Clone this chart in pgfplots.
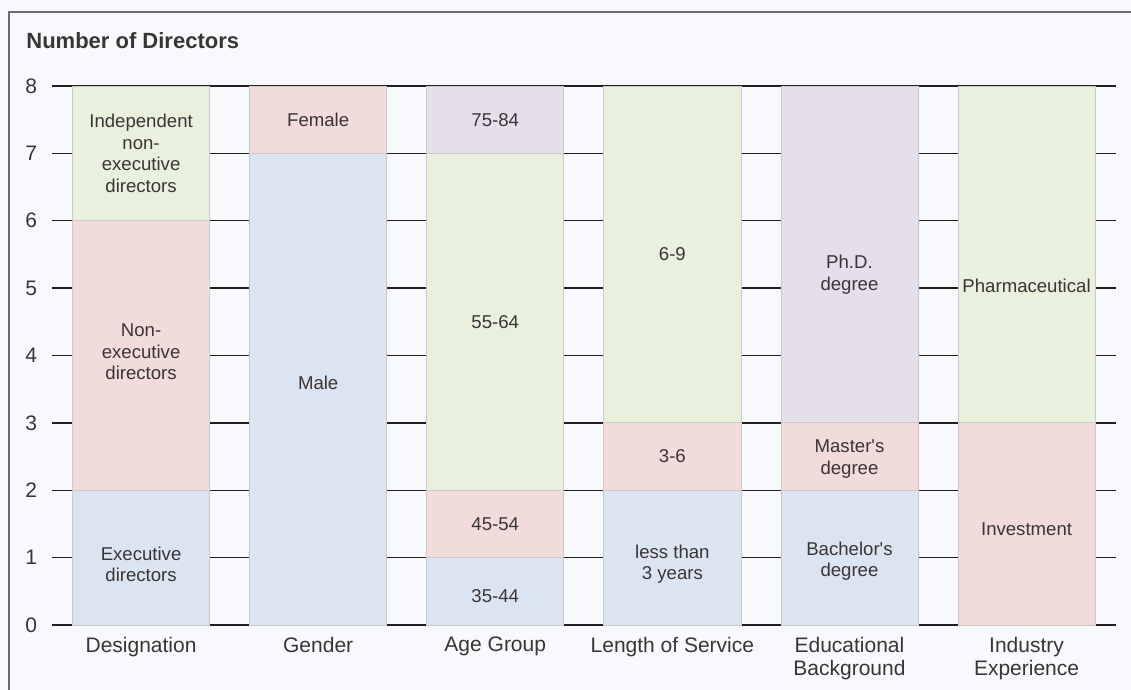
\documentclass[border=0pt]{standalone}
\usepackage{fontspec}
\setmainfont{Liberation Sans}
\usepackage{pgfplots}
\pgfplotsset{compat=1.18}
\definecolor{cblue}{HTML}{DBE5F1}
\definecolor{cpink}{HTML}{F2DBDB}
\definecolor{cgreen}{HTML}{E9F0DE}
\definecolor{cpurple}{HTML}{E5DFEC}
\definecolor{bgc}{HTML}{F8F9FD}
\definecolor{framec}{HTML}{6E6B6B}
\definecolor{gridc}{HTML}{231F20}
\definecolor{txt}{HTML}{3A3535}
\definecolor{edgec}{HTML}{CDC9C9}
\begin{document}
\begin{tikzpicture}[lab/.style={font=\fontsize{9.3}{10.75}\selectfont, text=txt, align=center}]
\useasboundingbox (0pt,0pt) rectangle (565.5pt,345pt);
\fill[bgc] (0pt,0pt) rectangle (565.5pt,345pt);
\draw[framec, line width=0.75pt] (4.5pt,-2pt) -- (4.5pt,339pt) -- (567pt,339pt);
\node[anchor=base west, inner sep=0pt, text=txt, font=\fontsize{11}{13}\selectfont\bfseries] at (13pt,320.5pt) {Number of Directors};
\begin{axis}[
  at={(26pt,32.5pt)}, anchor=south west,
  scale only axis, width=532pt, height=269.5pt,
  ybar stacked, bar width=0.774,
  xmin=-0.503, xmax=5.505, ymin=0, ymax=8,
  xtick={0,1,2,3,4,5},
  xticklabels={Designation, Gender, Age Group, Length of Service, Educational\\Background, Industry\\Experience},
  ytick={0,1,2,3,4,5,6,7,8},
  ymajorgrids, grid style={line width=0.65pt, color=gridc},
  axis x line=bottom, axis y line=left,
  axis line style={-},
  y axis line style={draw=none},
  x axis line style={line width=1pt, color=gridc},
  major tick length=0pt,
  /pgf/number format/assume math mode=true,
  yticklabel style={font=\fontsize{10.5}{12}\selectfont, text=txt, xshift=-4pt},
  xticklabel style={font=\fontsize{10.5}{11.5}\selectfont, text=txt, align=center, yshift=-2.5pt},
  every axis plot/.append style={draw=edgec, line width=0.4pt},
  clip=false,
]
\addplot[fill=cblue] coordinates {(0,2) (1,7) (2,1) (3,2) (4,2) (5,0)};
\addplot[fill=cpink] coordinates {(0,4) (1,1) (2,1) (3,1) (4,1) (5,3)};
\addplot[fill=cgreen] coordinates {(0,2) (1,0) (2,5) (3,5) (4,0) (5,5)};
\addplot[fill=cpurple] coordinates {(0,0) (1,0) (2,1) (3,0) (4,5) (5,0)};
\coordinate (a1) at (axis cs:0,7.0);
\coordinate (a2) at (axis cs:0,4.05);
\coordinate (a3) at (axis cs:0,0.9);
\coordinate (b1) at (axis cs:1,7.5);
\coordinate (b2) at (axis cs:1,3.6);
\coordinate (c1) at (axis cs:2,7.5);
\coordinate (c2) at (axis cs:2,4.5);
\coordinate (c3) at (axis cs:2,1.5);
\coordinate (c4) at (axis cs:2,0.43);
\coordinate (d1) at (axis cs:3,5.5);
\coordinate (d2) at (axis cs:3,2.5);
\coordinate (d3) at (axis cs:3,0.9);
\coordinate (e1) at (axis cs:4,5.2);
\coordinate (e2) at (axis cs:4,2.46);
\coordinate (e3) at (axis cs:4,0.95);
\coordinate (f1) at (axis cs:5,5.03);
\coordinate (f2) at (axis cs:5,1.42);
\end{axis}
\node[lab] at (a1) {Independent\\non-\\executive\\directors};
\node[lab] at (a2) {Non-\\executive\\directors};
\node[lab] at (a3) {Executive\\directors};
\node[lab] at (b1) {Female};
\node[lab] at (b2) {Male};
\node[lab] at (c1) {75-84};
\node[lab] at (c2) {55-64};
\node[lab] at (c3) {45-54};
\node[lab] at (c4) {35-44};
\node[lab] at (d1) {6-9};
\node[lab] at (d2) {3-6};
\node[lab] at (d3) {less than\\3 years};
\node[lab] at (e1) {Ph.D.\\degree};
\node[lab] at (e2) {Master\textquotesingle s\\degree};
\node[lab] at (e3) {Bachelor\textquotesingle s\\degree};
\node[lab] at (f1) {Pharmaceutical};
\node[lab] at (f2) {Investment};
\end{tikzpicture}
\end{document}
